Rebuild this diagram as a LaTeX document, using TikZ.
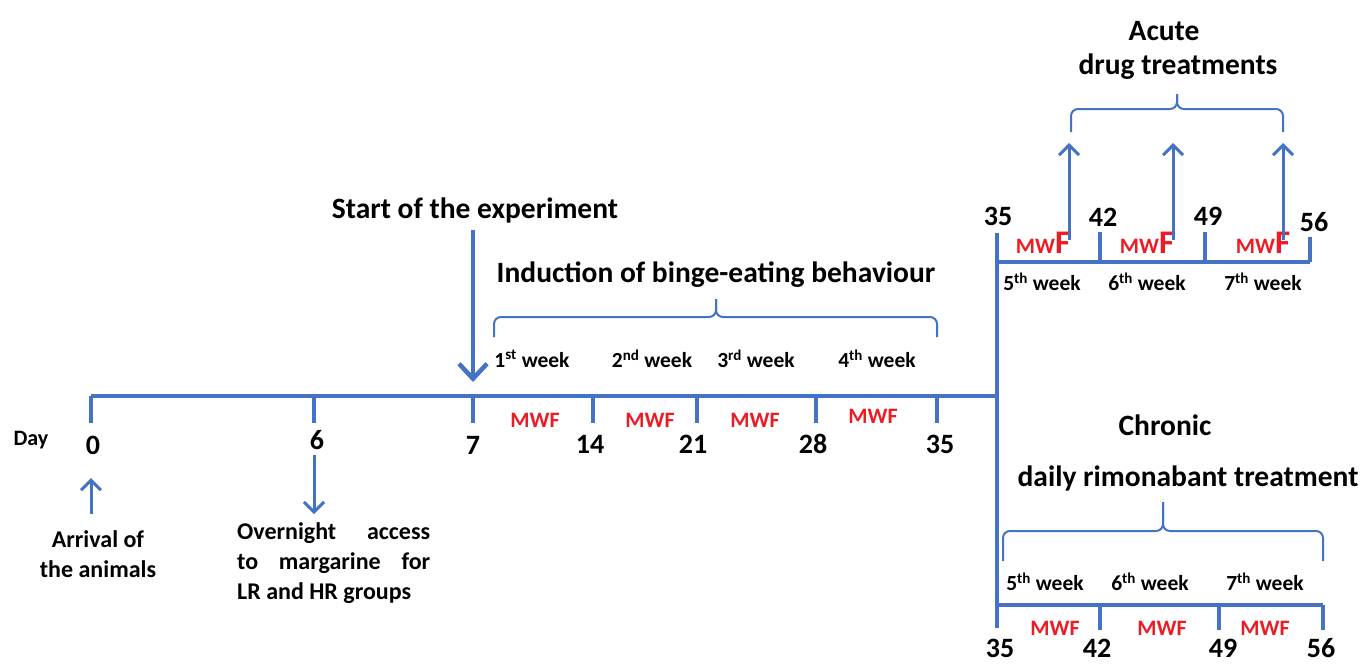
\documentclass[tikz,border=0pt]{standalone}
\usepackage{fontspec}
\setmainfont{Carlito}
\usetikzlibrary{arrows.meta, positioning, calc}
\definecolor{lineblue}{RGB}{68,114,196}
\definecolor{mwfred}{RGB}{237,28,36}
\tikzset{
  axis/.style={line width=4pt, color=lineblue},
  pointer/.style={line width=3pt, color=lineblue, -{Straight Barb[length=10pt,width=20pt,line width=3pt]}},
  bigpointer/.style={line width=4.5pt, color=lineblue, -{Straight Barb[length=15pt,width=28pt,line width=4.5pt]}},
  bracket/.style={line width=2pt, color=lineblue, rounded corners=7pt},
  daynum/.style={font=\fontsize{28}{28}\selectfont\bfseries, inner sep=0pt},
  title/.style={font=\fontsize{29.5}{29.5}\selectfont\bfseries, inner sep=0pt},
  weeklbl/.style={font=\fontsize{21.5}{21.5}\selectfont\bfseries, inner sep=0pt},
  note/.style={font=\fontsize{24}{30}\selectfont\bfseries, inner sep=0pt},
  mwf/.style={font=\fontsize{22}{22}\selectfont\bfseries, text=mwfred, inner sep=0pt},
}
\newcommand{\wk}[2]{#1\textsuperscript{#2} week}
\newcommand{\mwF}{MW{\fontsize{33}{33}\selectfont F}}

\begin{document}
\begin{tikzpicture}[x=1pt, y=-1pt]
  \useasboundingbox (0,0) rectangle (1369,665);

  % main time line
  \coordinate (d0) at (91,396);
  \coordinate (d6) at (314,396);
  \coordinate (d7) at (473,396);
  \coordinate (d14) at (593,396);
  \coordinate (d21) at (697,396);
  \coordinate (d28) at (816,396);
  \coordinate (d35) at (937,396);
  \coordinate (split) at (997,396);
  \draw [axis] (d0) -- (split);
  \foreach \p in {d0, d6, d7, d14, d21, d28, d35}
    \draw [axis] (\p) -- ++(0,27);

  \node [font=\fontsize{22}{22}\selectfont\bfseries, inner sep=0pt] (day) at (31,440) {Day};
  \node [daynum] (n0) at (93,445) {0};
  \node [daynum] (n6) at (317,440) {6};
  \node [daynum] (n7) at (473,445) {7};
  \node [daynum] (n14) at (590,444) {14};
  \node [daynum] (n21) at (693,444) {21};
  \node [daynum] (n28) at (813,444) {28};
  \node [daynum] (n35) at (940,444) {35};

  \node [mwf] (m1) at (535,420) {MWF};
  \node [mwf] (m2) at (650,420) {MWF};
  \node [mwf] (m3) at (755,420) {MWF};
  \node [mwf] (m4) at (873,416) {MWF};

  \node [weeklbl] (w1) at (532,359) {\wk{1}{st}};
  \node [weeklbl] (w2) at (652,359) {\wk{2}{nd}};
  \node [weeklbl] (w3) at (756,359) {\wk{3}{rd}};
  \node [weeklbl] (w4) at (877,359) {\wk{4}{th}};

  % start and induction
  \node [title] (start) at (475,210) {Start of the experiment};
  \coordinate (starttop) at (473,230);
  \coordinate (startend) at (473,382);
  \draw [bigpointer] (starttop) -- (startend);
  \node [title] (induct) at (716,275) {Induction of binge-eating behaviour};
  \coordinate (br1a) at (494,337);
  \coordinate (br1b) at (937,337);
  \coordinate (br1m) at (716,317);
  \coordinate (br1t) at (716,299);
  \draw [bracket] (br1a) |- (br1m) -- (br1t);
  \draw [bracket] (br1b) |- (br1m) -- (br1t);

  % arrival and margarine
  \node [note, align=center] (arrival) at (98,554) {Arrival of\\the animals};
  \coordinate (arrtail) at (91,514);
  \coordinate (arrtip) at (91,478);
  \draw [pointer] (arrtail) -- (arrtip);
  \node [note, align=left, anchor=north west] (marg) at (237,522)
    {\makebox[193pt][s]{Overnight access}\\\makebox[193pt][s]{to margarine for}\\LR and HR groups};
  \coordinate (margtop) at (314,455);
  \coordinate (margtip) at (314,514);
  \draw [pointer] (margtop) -- (margtip);

  % branch
  \draw [axis, line width=4.5pt] (997,233) -- (997,628);

  % acute branch
  \coordinate (u35) at (997,262);
  \coordinate (u42) at (1100,262);
  \coordinate (u49) at (1205,262);
  \coordinate (u56) at (1310,262);
  \draw [axis] (u35) -- (u56);
  \draw [axis] (u42) -- ++(0,-30);
  \draw [axis] (u49) -- ++(0,-30);
  \draw [axis] (u56) -- ++(0,-25);
  \node [daynum] (t35) at (998,216) {35};
  \node [daynum] (t42) at (1103,217) {42};
  \node [daynum] (t49) at (1208,216) {49};
  \node [daynum] (t56) at (1314,222) {56};
  \node [mwf] (a1) at (1043,243) {\mwF};
  \node [mwf] (a2) at (1147,243) {\mwF};
  \node [mwf] (a3) at (1263,243) {\mwF};
  \node [weeklbl] (w5) at (1042,282) {\wk{5}{th}};
  \node [weeklbl] (w6) at (1147,282) {\wk{6}{th}};
  \node [weeklbl] (w7) at (1263,282) {\wk{7}{th}};
  \foreach \x/\n in {1069/1, 1173/2, 1283/3} {
    \coordinate (acb\n) at (\x,240);
    \coordinate (act\n) at (\x,143);
    \draw [pointer] (acb\n) -- (act\n);
  }
  \coordinate (br2a) at (1071,132);
  \coordinate (br2b) at (1283,132);
  \coordinate (br2m) at (1177,109);
  \coordinate (br2t) at (1177,94);
  \draw [bracket] (br2a) |- (br2m) -- (br2t);
  \draw [bracket] (br2b) |- (br2m) -- (br2t);
  \node [title] (acute) at (1164,31) {Acute};
  \node [title] (drug) at (1178,67) {drug treatments};

  % chronic branch
  \coordinate (c35) at (997,605);
  \coordinate (c42) at (1100,605);
  \coordinate (c49) at (1219,605);
  \coordinate (c56) at (1323,605);
  \draw [axis] (c35) -- (c56);
  \foreach \p in {c42, c49, c56}
    \draw [axis] (\p) -- ++(0,25);
  \node [daynum] (b35) at (1000,648) {35};
  \node [daynum] (b42) at (1097,648) {42};
  \node [daynum] (b49) at (1223,648) {49};
  \node [daynum] (b56) at (1321,648) {56};
  \node [mwf] (r1) at (1055,628) {MWF};
  \node [mwf] (r2) at (1162,628) {MWF};
  \node [mwf] (r3) at (1265,628) {MWF};
  \node [weeklbl] (w5b) at (1045,582) {\wk{5}{th}};
  \node [weeklbl] (w6b) at (1150,582) {\wk{6}{th}};
  \node [weeklbl] (w7b) at (1265,582) {\wk{7}{th}};
  \coordinate (br3a) at (1003,561);
  \coordinate (br3b) at (1323,561);
  \coordinate (br3m) at (1163,531);
  \coordinate (br3t) at (1163,502);
  \draw [bracket] (br3a) |- (br3m) -- (br3t);
  \draw [bracket] (br3b) |- (br3m) -- (br3t);
  \node [title] (chronic) at (1165,425) {Chronic};
  \node [title] (rimo) at (1188,478) {daily rimonabant treatment};
\end{tikzpicture}
\end{document}
